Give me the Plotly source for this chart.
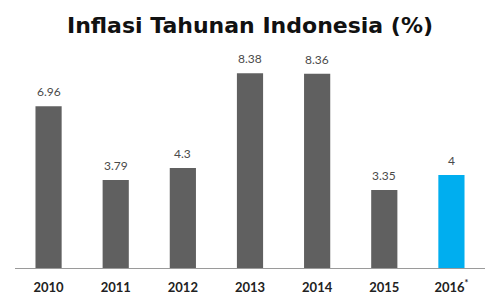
import plotly.graph_objects as go

years = ["2010", "2011", "2012", "2013", "2014", "2015", "2016*"]
tick_labels = ["2010", "2011", "2012", "2013", "2014", "2015", "2016<sup>*</sup>"]
inflation = [6.96, 3.79, 4.3, 8.38, 8.36, 3.35, 4]
value_labels = ["6.96", "3.79", "4.3", "8.38", "8.36", "3.35", "4"]
bar_colors = ["#606060", "#606060", "#606060", "#606060", "#606060", "#606060", "#00AEEF"]

fig = go.Figure()
fig.add_trace(go.Bar(
    x=years, y=inflation,
    marker=dict(color=bar_colors, line=dict(width=0)),
    width=0.39,
    hoverinfo="skip",
))

for i, (v, lab) in enumerate(zip(inflation, value_labels)):
    fig.add_annotation(
        x=i, y=v, text=lab, showarrow=False,
        xref="x", yref="y",
        yanchor="bottom", yshift=5,
        font=dict(family="Lato, Open Sans, sans-serif", size=12, color="#4a4a4a"),
    )

fig.update_layout(
    width=500, height=302,
    margin=dict(l=15, r=15, t=30, b=34, autoexpand=False),
    paper_bgcolor="white", plot_bgcolor="white",
    showlegend=False,
    title=dict(
        text="<b>Inflasi Tahunan Indonesia (%)</b>",
        x=0.5, xanchor="center", y=1 - 25/302, yanchor="middle",
        font=dict(family="DejaVu Sans, Verdana, sans-serif", size=22, color="#111111"),
    ),
    xaxis=dict(
        type="category", automargin=False,
        tickvals=years, ticktext=["<b>" + t + "</b>" for t in tick_labels],
        range=[-0.5, 6.5],
        showline=True, linecolor="#9a9a9a", linewidth=1,
        ticks="", showgrid=False, zeroline=False,
        tickfont=dict(family="Lato, Open Sans, sans-serif", size=13, color="#222222"),
        ticklabelstandoff=7,
    ),
    yaxis=dict(
        range=[0, 238 / 23.25], automargin=False,
        visible=False, showgrid=False, zeroline=False,
    ),
)

fig.write_html("out.html")
